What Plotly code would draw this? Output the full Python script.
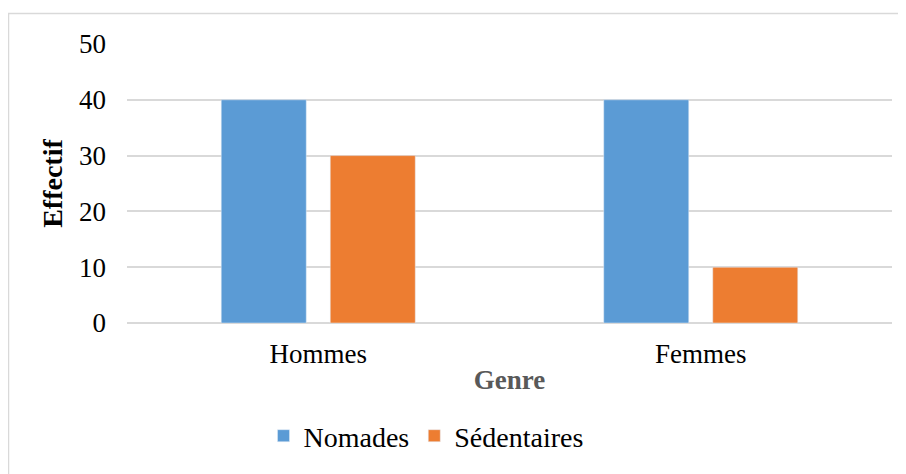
import plotly.graph_objects as go

categories = ["Hommes", "Femmes"]
nomades = [40, 40]
sedentaires = [30, 10]
y_ticks = [0, 10, 20, 30, 40, 50]

FONT = "Liberation Serif"

fig = go.Figure()
fig.add_trace(go.Bar(name="Nomades", x=categories, y=nomades, marker_color="#5B9BD5"))
fig.add_trace(go.Bar(name="Sédentaires", x=categories, y=sedentaires, marker_color="#ED7D31"))

# page body adds an 8px offset, so figure coordinates = screen - 8
OFF = 8
W, H = 906, 474
L, T = 127 - OFF, 44 - OFF
PR, PB = 892 - OFF, 323 - OFF
R, B = W - PR, H - PB
pw = PR - L
ph = PB - T

fig.update_layout(
    width=W, height=H,
    margin=dict(l=L, r=R, t=T, b=B),
    paper_bgcolor="white", plot_bgcolor="white",
    barmode="group", bargap=0.43, bargroupgap=0.22,
    font=dict(family=FONT, size=27, color="#000000"),
    showlegend=True,
    legend=dict(orientation="h", x=(426 - OFF - L) / pw, xanchor="center", y=-(436 - 323) / ph, yanchor="middle",
                font=dict(family=FONT, size=28, color="#000000"), itemwidth=30, traceorder="normal"),
    xaxis=dict(showgrid=False, showline=False, ticks="", tickfont=dict(family=FONT, size=27), ticklabelstandoff=12,
               title=dict(text="<b>Genre</b>", font=dict(family=FONT, size=27, color="#595959"), standoff=2)),
    yaxis=dict(range=[0, 50], tickvals=y_ticks, showgrid=True, gridcolor="#D9D9D9", gridwidth=1.5,
               zeroline=True, zerolinecolor="#D9D9D9", zerolinewidth=1.5, ticks="", ticklabelstandoff=20,
               tickfont=dict(family=FONT, size=27),
               title=dict(text="<b>Effectif</b>", font=dict(family=FONT, size=28, color="#000000"), standoff=8)),
    shapes=[dict(type="rect", xref="paper", yref="paper",
                 x0=(8.5 - OFF - L) / pw, x1=(930 - OFF - L) / pw,
                 y0=-(500 - 323) / ph, y1=(323 - 13.5) / ph,
                 line=dict(color="#D9D9D9", width=1.5), fillcolor="rgba(0,0,0,0)", layer="below")],
)

fig.write_html("out.html")
